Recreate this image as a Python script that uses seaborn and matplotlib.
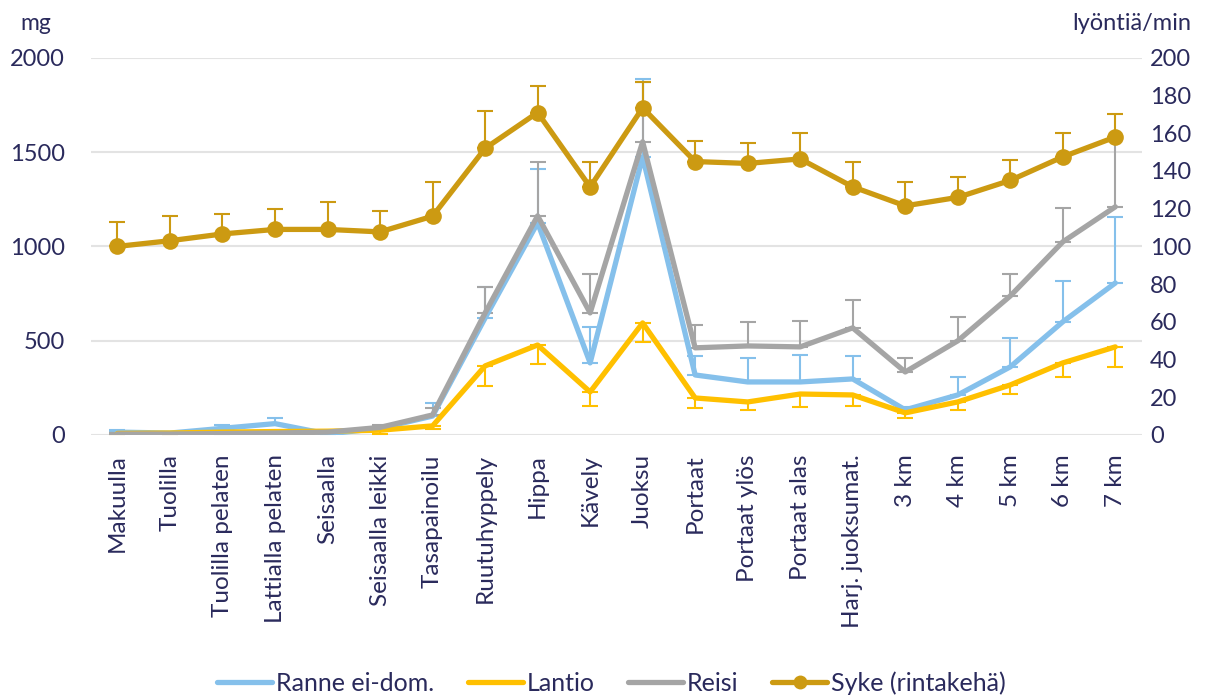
import numpy as np
import pandas as pd
import matplotlib
matplotlib.use("Agg")
import matplotlib.pyplot as plt
from matplotlib.lines import Line2D
import seaborn as sns

categories = ["Makuulla", "Tuolilla", "Tuolilla pelaten", "Lattialla pelaten", "Seisaalla",
              "Seisaalla leikki", "Tasapainoilu", "Ruutuhyppely", "Hippa", "Kävely", "Juoksu",
              "Portaat", "Portaat ylös", "Portaat alas", "Harj. juoksumat.", "3 km", "4 km",
              "5 km", "6 km", "7 km"]

# Acceleration (mg) per sensor location
ranne = [15, 10, 35, 60, 5, 35, 100, 620, 1125, 382, 1475, 318, 281, 281, 297, 133, 212, 361, 600, 806]
ranne_err = [10, 5, 20, 28, 5, 10, 67, 165, 286, 191, 414, 100, 127, 143, 122, 16, 96, 154, 217, 351]

lantio = [8, 10, 15, 18, 20, 25, 48, 366, 477, 228, 594, 196, 175, 217, 212, 117, 175, 265, 382, 467]
lantio_err = [5, 5, 5, 5, 8, 20, 16, 106, 100, 74, 101, 53, 42, 69, 58, 27, 42, 48, 74, 106]

reisi = [5, 5, 7, 10, 15, 40, 106, 647, 1162, 647, 1555, 462, 472, 467, 568, 334, 499, 737, 1024, 1210]
reisi_err = [3, 3, 5, 5, 5, 15, 39, 138, 288, 207, 315, 122, 128, 138, 148, 74, 127, 117, 180, 360]

# Heart rate (beats/min), chest strap
syke = [100, 103, 106.6, 109, 109, 107.7, 116, 152, 171, 131.5, 173.5, 145, 144, 146.4, 131.6,
        121.5, 126, 135, 147.5, 158]
syke_err = [13, 13, 10.4, 11, 14.6, 11.3, 18, 20, 14, 13.5, 13.5, 11, 11, 13.6, 13.4, 12.5, 11, 11, 12.5, 12]

C_RANNE = "#85C0EB"
C_LANTIO = "#FFC000"
C_REISI = "#A5A5A5"
C_SYKE = "#CC9A12"
TXT = "#2A2A5C"
GRID = "#E3E3E3"

sns.set_theme(style="white")
plt.rcParams["font.family"] = ["Lato", "DejaVu Sans"]
plt.rcParams["text.color"] = TXT

x = np.arange(len(categories))
df = pd.DataFrame({"x": x, "Ranne ei-dom.": ranne, "Lantio": lantio, "Reisi": reisi,
                   "Syke (rintakehä)": syke})

fig = plt.figure(figsize=(12.08, 6.97), dpi=100)
ax = fig.add_axes([0.0755, 0.376, 0.8695, 0.541])
ax2 = ax.twinx()

lw = 3.8
elw = 1.5
cap = 6

# error bars: upper for wrist, thigh and heart rate; lower for hip
ax.errorbar(x, ranne, yerr=[np.zeros(len(x)), ranne_err], fmt="none", ecolor=C_RANNE,
            elinewidth=elw, capsize=cap, capthick=elw, zorder=2)
ax.errorbar(x, lantio, yerr=[lantio_err, np.zeros(len(x))], fmt="none", ecolor=C_LANTIO,
            elinewidth=elw, capsize=cap, capthick=elw, zorder=2)
ax.errorbar(x, reisi, yerr=[np.zeros(len(x)), reisi_err], fmt="none", ecolor=C_REISI,
            elinewidth=elw, capsize=cap, capthick=elw, zorder=2)

sns.lineplot(data=df, x="x", y="Ranne ei-dom.", ax=ax, color=C_RANNE, linewidth=lw, zorder=3)
sns.lineplot(data=df, x="x", y="Lantio", ax=ax, color=C_LANTIO, linewidth=lw, zorder=3)
sns.lineplot(data=df, x="x", y="Reisi", ax=ax, color=C_REISI, linewidth=lw, zorder=3)

ax2.errorbar(x, syke, yerr=[np.zeros(len(x)), syke_err], fmt="none", ecolor=C_SYKE,
             elinewidth=elw, capsize=cap, capthick=elw, zorder=2)
sns.lineplot(data=df, x="x", y="Syke (rintakehä)", ax=ax2, color=C_SYKE, linewidth=lw,
             marker="o", markersize=12, markeredgewidth=0, zorder=3)

ax.set_xlim(-0.5, len(categories) - 0.5)
ax.set_ylim(0, 2000)
ax2.set_ylim(0, 200)
ax.set_yticks(np.arange(0, 2001, 500))
ax2.set_yticks(np.arange(0, 201, 20))
ax.yaxis.grid(True, color=GRID, linewidth=1.5)
ax.set_axisbelow(True)

ax.set_xticks(x)
ax.set_xticklabels(categories, rotation=90, fontsize=17.5, color=TXT)
ax.tick_params(axis="x", length=0, pad=14)
ax.tick_params(axis="y", length=0, pad=19, labelsize=17, labelcolor=TXT)
ax2.tick_params(axis="y", length=0, pad=6, labelsize=17, labelcolor=TXT)
ax.set_xlabel("")
ax.set_ylabel("")
ax2.set_ylabel("")

for a in (ax, ax2):
    for s in a.spines.values():
        s.set_visible(False)

fig.text(0.030, 0.966, "mg", fontsize=16.5, color=TXT, ha="center", va="center")
fig.text(0.937, 0.966, "lyöntiä/min", fontsize=17, color=TXT, ha="center", va="center")

handles = [
    Line2D([], [], color=C_RANNE, linewidth=lw, solid_capstyle="round"),
    Line2D([], [], color=C_LANTIO, linewidth=lw, solid_capstyle="round"),
    Line2D([], [], color=C_REISI, linewidth=lw, solid_capstyle="round"),
    Line2D([], [], color=C_SYKE, linewidth=lw, marker="o", markersize=10, markeredgewidth=0),
]
labels = ["Ranne ei-dom.", "Lantio", "Reisi", "Syke (rintakehä)"]
fig.legend(handles, labels, loc="center", bbox_to_anchor=(0.506, 0.02), ncol=4, frameon=False,
           fontsize=18, handlelength=2.2, handletextpad=0.15, columnspacing=1.35,
           labelcolor=TXT)

fig.savefig("out.png", dpi=100)
